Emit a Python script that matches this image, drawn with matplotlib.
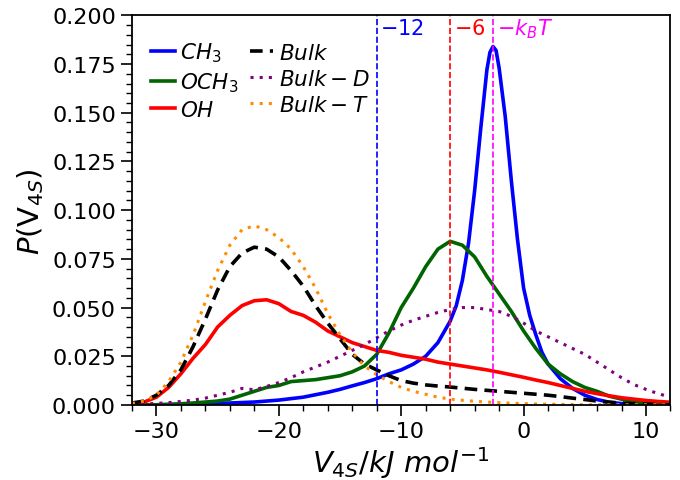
import numpy as np
import matplotlib
matplotlib.use('Agg')
import matplotlib.pyplot as plt
from matplotlib.ticker import MultipleLocator

# common grid for most series
x = np.arange(-32, 13, 1)

bulk = [0.001, 0.002, 0.005, 0.010, 0.018, 0.030, 0.044, 0.059, 0.071, 0.078,
        0.081, 0.080, 0.076, 0.069, 0.061, 0.051, 0.042, 0.034, 0.026, 0.021,
        0.018, 0.015, 0.0125, 0.0112, 0.0103, 0.0097, 0.0092, 0.0086, 0.0080, 0.0075,
        0.0070, 0.0065, 0.0060, 0.0055, 0.0050, 0.0043, 0.0035, 0.0028, 0.0020, 0.0014,
        0.0010, 0.0006, 0.0004, 0.0002, 0.0001]

bulk_t = [0.0008, 0.002, 0.005, 0.012, 0.022, 0.036, 0.053, 0.069, 0.082, 0.090,
          0.092, 0.090, 0.086, 0.080, 0.071, 0.060, 0.047, 0.036, 0.027, 0.020,
          0.0155, 0.012, 0.009, 0.007, 0.0055, 0.004, 0.003, 0.0024, 0.0019, 0.0015,
          0.0012, 0.0009, 0.0007, 0.0005, 0.0004, 0.0003, 0.0002, 0.0001, 0.0001, 0.0001,
          0.0001, 0.0001, 0.0001, 0.0001, 0.0001]

oh = [0.0008, 0.0015, 0.004, 0.009, 0.016, 0.024, 0.031, 0.040, 0.046, 0.051,
      0.0535, 0.054, 0.052, 0.048, 0.046, 0.0425, 0.038, 0.035, 0.032, 0.030,
      0.028, 0.027, 0.0255, 0.0245, 0.0235, 0.022, 0.021, 0.020, 0.019, 0.018,
      0.0168, 0.0155, 0.0142, 0.0128, 0.0115, 0.010, 0.0085, 0.007, 0.0058, 0.0047,
      0.0037, 0.003, 0.0023, 0.0018, 0.0014]

och3 = [0.0, 0.0, 0.0001, 0.0003, 0.0006, 0.001, 0.0015, 0.002, 0.003, 0.005,
        0.007, 0.009, 0.010, 0.012, 0.0125, 0.013, 0.014, 0.015, 0.017, 0.020,
        0.026, 0.037, 0.050, 0.060, 0.071, 0.080, 0.084, 0.082, 0.076, 0.066,
        0.057, 0.048, 0.038, 0.029, 0.021, 0.016, 0.012, 0.009, 0.007, 0.0045,
        0.003, 0.0018, 0.001, 0.0006, 0.0003]

bulk_d = [0.0003, 0.0005, 0.0008, 0.0012, 0.0018, 0.0025, 0.0035, 0.005, 0.0065, 0.0085,
          0.0078, 0.0095, 0.0115, 0.014, 0.017, 0.0195, 0.022, 0.025, 0.028, 0.031,
          0.0345, 0.038, 0.041, 0.0435, 0.0455, 0.0475, 0.049, 0.050, 0.050, 0.049,
          0.048, 0.0455, 0.042, 0.038, 0.035, 0.032, 0.029, 0.026, 0.022, 0.018,
          0.014, 0.0105, 0.008, 0.0058, 0.004]

# CH3 is sharp, own grid
x_ch3 = [-32, -30, -28, -26, -24, -22, -20, -18, -16, -15, -14, -13, -12, -11, -10,
         -9, -8, -7, -6, -5.5, -5, -4.5, -4, -3.5, -3, -2.75, -2.5, -2.25, -2,
         -1.5, -1, -0.5, 0, 0.5, 1, 1.5, 2, 3, 4, 5, 6, 7, 8, 9, 10, 11, 12]
ch3 = [0.0, 0.0001, 0.0003, 0.0006, 0.001, 0.0015, 0.0025, 0.004, 0.0065, 0.008,
       0.0098, 0.0115, 0.0135, 0.016, 0.018, 0.021, 0.025, 0.032, 0.043, 0.051,
       0.064, 0.083, 0.110, 0.142, 0.172, 0.181, 0.184, 0.182, 0.173, 0.148,
       0.115, 0.085, 0.060, 0.046, 0.036, 0.027, 0.021, 0.0135, 0.0085, 0.005,
       0.0028, 0.0014, 0.0007, 0.0004, 0.0002, 0.0001, 0.0]

kBT = 2.48
vlines = [-12, -6, -kBT]
vcolors = ['blue', 'red', 'magenta']
vtexts = [r'$-12$', r'$-6$', r'$-k_BT$']

fig = plt.figure(figsize=(6.8, 4.81), dpi=100)
ax = fig.add_axes([0.194, 0.156, 0.792, 0.81])

ax.plot(x_ch3, ch3, color='blue', lw=2.6, label=r'$CH_3$')
ax.plot(x, och3, color='darkgreen', lw=2.6, label=r'$OCH_3$')
ax.plot(x, oh, color='red', lw=2.6, label=r'$OH$')
ax.plot(x, bulk, color='black', lw=2.6, ls=(0, (3.5, 2)), label=r'$Bulk$')
ax.plot(x, bulk_d, color='purple', lw=2.2, ls=(0, (1, 2)), label=r'$Bulk-D$')
ax.plot(x, bulk_t, color='darkorange', lw=2.2, ls=(0, (1, 2)), label=r'$Bulk-T$')

for v, c, t in zip(vlines, vcolors, vtexts):
    ax.axvline(v, color=c, ls='--', lw=1.2)
    ax.text(v + 0.3, 0.1935, t, color=c, fontsize=15, va='center', ha='left')

ax.set_xlim(-32, 12)
ax.set_ylim(0, 0.2)
ax.xaxis.set_major_locator(MultipleLocator(10))
ax.xaxis.set_minor_locator(MultipleLocator(2))
ax.yaxis.set_major_locator(MultipleLocator(0.025))
ax.yaxis.set_minor_locator(MultipleLocator(0.005))
ax.tick_params(which='major', length=8, width=1.2, labelsize=16)
ax.tick_params(which='minor', length=4.5, width=1)
ax.yaxis.set_major_formatter(matplotlib.ticker.FormatStrFormatter('%.3f'))
for s in ax.spines.values():
    s.set_linewidth(1.3)

ax.set_xlabel(r'$V_{4S}/kJ\ mol^{-1}$', fontsize=21, labelpad=2)
ax.set_ylabel(r'$P(\mathrm{V}_{4S})$', fontsize=21)

ax.legend(loc='upper left', ncol=2, frameon=False, fontsize=15.5,
          handlelength=1.1, handletextpad=0.25, columnspacing=0.5,
          labelspacing=0.28, bbox_to_anchor=(0.0, 0.985))

fig.savefig('out.png', dpi=100)
